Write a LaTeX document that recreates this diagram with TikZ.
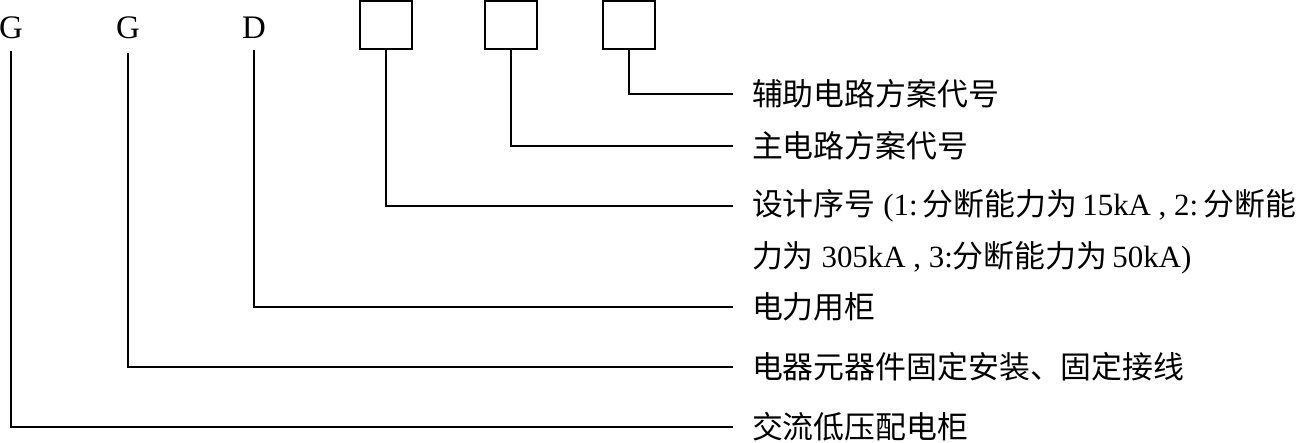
\documentclass[tikz,border=0pt]{standalone}
\usepackage{fontspec}
\setmainfont{Liberation Serif}
\newfontfamily\cjk{Noto Sans CJK SC}
\begin{document}
\begin{tikzpicture}[x=1bp,y=-1bp, line width=2.2bp,
  letter/.style={font=\fontsize{33}{33}\selectfont, inner sep=0pt},
  codebox/.style={draw, minimum width=52bp, minimum height=48bp, inner sep=0pt},
  lab/.style={anchor=west, inner sep=0pt, font=\fontsize{31}{33}\selectfont},
  conn/.style={draw, line width=2.2bp}
]
\useasboundingbox (0,0) rectangle (1310,443);
% code letters and boxes
\node[letter] (g1) at (11,28) {G};
\node[letter] (g2) at (128,28) {G};
\node[letter] (d) at (254,28) {D};
\node[codebox] (b1) at (386,25) {};
\node[codebox] (b2) at (511,25) {};
\node[codebox] (b3) at (629,25) {};
% labels
\node[lab] (l1) at (751,94) {\cjk 辅助电路方案代号};
\node[lab] (l2) at (751,146) {\cjk 主电路方案代号};
\node[lab] (l3) at (751,206) {{\cjk 设计序号} (1:\,{\cjk 分断能力为}\,15kA , 2:\,{\cjk 分断能}};
\node[lab] (l3b) at (751,258) {{\cjk 力为} 305kA , 3:{\cjk 分断能力为}\,50kA)};
\node[lab] (l4) at (751,307) {\cjk 电力用柜};
\node[lab] (l5) at (751,367) {\cjk 电器元器件固定安装、固定接线};
\node[lab] (l6) at (751,427) {\cjk 交流低压配电柜};
% connectors
\draw[conn] (b3.south) |- ([xshift=-18bp]l1.west);
\draw[conn] (b2.south) |- ([xshift=-18bp]l2.west);
\draw[conn] (b1.south) |- ([xshift=-18bp]l3.west);
\draw[conn] ([yshift=-10bp]d.south) |- ([xshift=-18bp]l4.west);
\draw[conn] ([yshift=-13bp]g2.south) |- ([xshift=-18bp]l5.west);
\draw[conn] ([yshift=-11bp]g1.south) |- ([xshift=-18bp]l6.west);
\end{tikzpicture}
\end{document}
